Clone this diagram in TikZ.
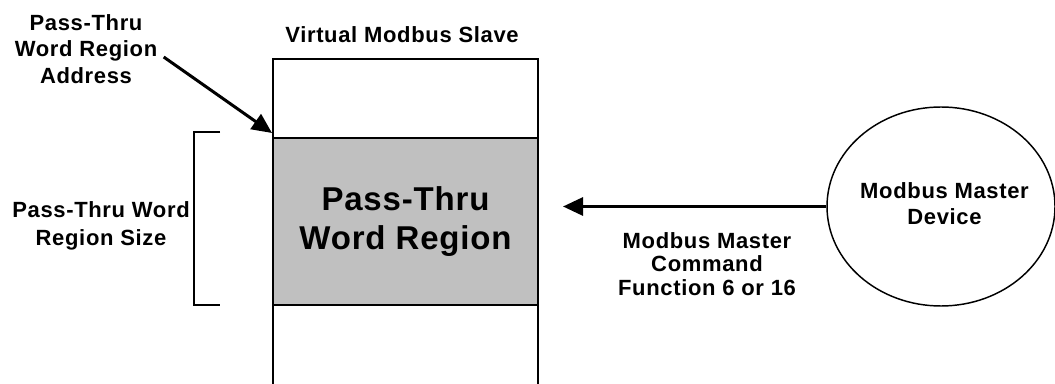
\documentclass[tikz,border=0pt]{standalone}
\usepackage{fontspec}
\setmainfont{Liberation Sans}[LetterSpace=3]
\newfontfamily\regionfont{Liberation Sans}[LetterSpace=2.5]
\usetikzlibrary{arrows.meta,shapes.geometric}
\definecolor{regiongray}{RGB}{192,192,192}

\tikzset{every picture/.style={line width=0.75pt}}
\tikzset{
  lbl/.style={align=center, inner sep=0.75pt, font=\bfseries\fontsize{16.5}{20}\selectfont},
  pointer/.style={line width=2.25pt, -{Triangle[length=15pt,width=13.5pt]}},
}

\begin{document}
\begin{tikzpicture}[x=0.75pt,y=0.75pt,yscale=-1,xscale=1]
\useasboundingbox (0,0) rectangle (1055,384);

%Shape: Rectangle [slave]
\draw [line width=1.5pt] (273,59) -- (538,59) -- (538,392) -- (273,392) -- cycle ;
%Shape: Rectangle [region]
\node [draw, line width=1.5pt, fill=regiongray, inner sep=0pt, minimum width=198.75pt, minimum height=125.6pt, align=center, font=\regionfont\bfseries\fontsize{24.75}{29.25}\selectfont] (region) at (405.5,221.25) {Pass-Thru\\Word Region};
%Shape: Ellipse [master]
\node [draw, ellipse, line width=1.1pt, inner sep=0pt, minimum width=171pt, minimum height=149.25pt] (dev) at (941,206.5) {};
%Shape: Bracket
\draw [line width=1.1pt] (220,132) -- (194,132) -- (194,305) -- (220,305) ;

% Text Node
\node [lbl] (slave) at (402,34.5) {Virtual Modbus Slave};
% Text Node
\node [lbl] (addr) at (86,49) {Pass-Thru\\Word Region\\Address};
% Text Node
\node [lbl, font=\bfseries\fontsize{16.5}{21}\selectfont] (size) at (101,226) {Pass-Thru Word\\Region Size};
% Text Node
\node [lbl, font=\bfseries\fontsize{16.5}{17.5}\selectfont] (cmd) at (707,264) {Modbus Master\\Command\\Function 6 or 16};
% Text Node
\node [lbl] (devtext) at (944.5,203.5) {Modbus Master\\Device};

\coordinate (addrtip) at (272,133);
\coordinate (cmdtip) at (563,206.5);

%Straight Lines
\draw [pointer] ([shift={(5,8)}]addr.east) -- (addrtip) ;
%Straight Lines
\draw [pointer] (dev.west) -- (cmdtip) ;

\end{tikzpicture}
\end{document}
